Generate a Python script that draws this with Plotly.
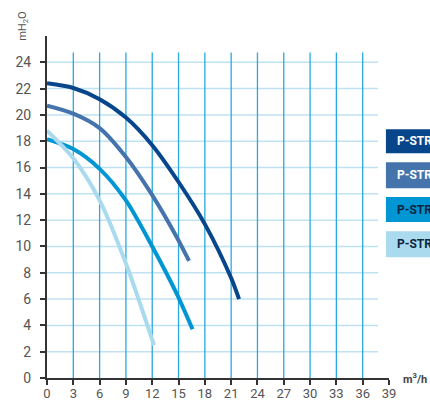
import plotly.graph_objects as go

# Pump curves (flow m3/h, head mH2O)
flow_1 = [0, 3, 6, 9, 12, 15, 18, 21, 21.9]
head_1 = [22.4, 22.05, 21.2, 19.8, 17.7, 14.9, 11.7, 7.6, 6.0]
flow_2 = [0, 3, 6, 9, 12, 14.8, 16.2]
head_2 = [20.7, 20.1, 19.0, 16.8, 13.9, 10.7, 8.9]
flow_3 = [0, 3, 6, 9, 12, 14.8, 16.6]
head_3 = [18.15, 17.4, 15.9, 13.5, 10.0, 6.4, 3.7]
flow_4 = [0, 3, 6, 9, 12.2]
head_4 = [18.8, 16.7, 13.5, 8.7, 2.5]

series_names = ["P-STR-", "P-STR-", "P-STR-", "P-STR-"]
series_colors = ["#08468c", "#4574ad", "#0096d4", "#a9daee"]
label_colors = ["#ffffff", "#ffffff", "#0b2540", "#0b2540"]

x_ticks = list(range(0, 40, 3))
y_ticks = list(range(0, 25, 2))

fig = go.Figure()

shapes = []
# horizontal grid
for yv in y_ticks[1:]:
    shapes.append(dict(type="line", xref="x", yref="y", x0=0, x1=37.75, y0=yv, y1=yv,
                       line=dict(color="#bfe2f2", width=1.5), layer="below"))
# vertical grid
for xv in x_ticks[1:-1]:
    shapes.append(dict(type="line", xref="x", yref="y", x0=xv, x1=xv, y0=0, y1=24.75,
                       line=dict(color="#2aa8df", width=1.3), layer="below"))

for fx, hy, col in zip([flow_1, flow_2, flow_3, flow_4],
                       [head_1, head_2, head_3, head_4], series_colors):
    fig.add_trace(go.Scatter(x=fx, y=hy, mode="lines",
                             line=dict(color=col, width=4, shape="spline", smoothing=0.8),
                             showlegend=False, hoverinfo="skip"))

# legend boxes
box_y = [(0.657, 0.727), (0.555, 0.631), (0.456, 0.529), (0.353, 0.429)]
annotations = []
for (y0, y1), col, name, tc in zip(box_y, series_colors, series_names, label_colors):
    shapes.append(dict(type="rect", xref="paper", yref="paper", x0=0.991, x1=1.2,
                       y0=y0, y1=y1, fillcolor=col, line=dict(width=0)))
    annotations.append(dict(xref="paper", yref="paper", x=1.019, y=(y0 + y1) / 2,
                            xanchor="left", yanchor="middle", text=name, showarrow=False,
                            font=dict(family="Liberation Sans Narrow, Roboto", size=12,
                                      color=tc, weight="bold")))

annotations.append(dict(xref="paper", yref="paper", x=-0.069, y=1.028, textangle=-90,
                        text="mH<sub>2</sub>O", showarrow=False, xanchor="center",
                        yanchor="middle",
                        font=dict(family="Roboto", size=11, color="#555555")))
annotations.append(dict(xref="paper", yref="paper", x=1.035, y=0, text="m<sup>3</sup>/h",
                        showarrow=False, xanchor="left", yanchor="middle",
                        font=dict(family="Roboto", size=11, color="#444444", weight="bold")))

fig.update_layout(
    width=430, height=400,
    margin=dict(l=46.5, r=41, t=35.7, b=22, autoexpand=False),
    paper_bgcolor="white", plot_bgcolor="white",
    shapes=shapes, annotations=annotations,
    xaxis=dict(range=[0, 39], tickvals=x_ticks, showgrid=False, zeroline=False,
               showline=True, linecolor="#333333", linewidth=2, ticks="outside",
               ticklen=5, tickcolor="#333333", tickwidth=1.5, automargin=False,
               ticklabelstandoff=-3,
               tickfont=dict(family="Roboto", size=13, color="#555555")),
    yaxis=dict(range=[0, 26], tickvals=y_ticks, showgrid=False, zeroline=False,
               showline=True, linecolor="#333333", linewidth=2, ticks="outside",
               ticklen=5, tickcolor="#333333", tickwidth=1.5, ticklabelstandoff=6,
               automargin=False,
               tickfont=dict(family="Roboto", size=14, color="#555555")),
)

fig.write_html("out.html", config={"displayModeBar": False},
               post_script="document.body.style.margin='0';document.body.style.overflow='hidden';")
